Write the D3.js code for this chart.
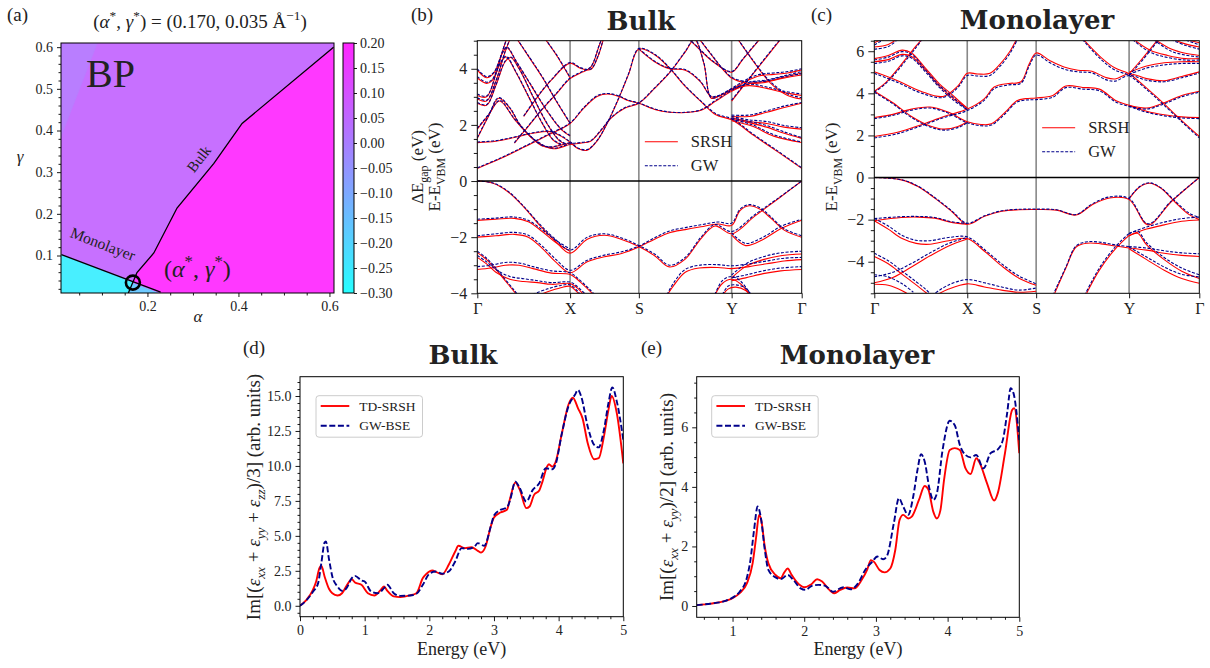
<!DOCTYPE html>
<html>
<head>
<meta charset="utf-8">
<script src="https://cdn.jsdelivr.net/npm/d3@7"></script>
<style>
  body { margin: 0; background: #fff; }
  svg text { font-family: "Liberation Serif", "DejaVu Serif", serif; fill: #222; }
</style>
</head>
<body>
<svg id="fig" width="1210" height="668"></svg>
<script>
// ---------- panel (a): phase map ----------
var bulkLine = [[0.158,0.01],[0.177,0.059],[0.214,0.106],[0.265,0.214],[0.346,0.321],[0.408,0.417],[0.609,0.6]];
var monoLine = [[0.011,0.102],[0.229,0.012]];
var optPoint = [0.168, 0.035];
var regionValues = { upper: 0.06, corner: 0.025, cyan: -0.26, wedge: -0.165, right: 0.2 };
var cbarTicks = [-0.30,-0.25,-0.20,-0.15,-0.10,-0.05,0.00,0.05,0.10,0.15,0.20];

// ---------- panels (b),(c): band structures, points are [k, SRSH, GW] ----------
var kLabels = ["Γ","X","S","Y","Γ"];
var kFrac = [0, 0.286, 0.498, 0.784, 1];

var bulkBands = [
  [[0,0,0],[0.17,-0.08,-0.07],[0.33,-0.38,-0.36],[0.5,-0.92,-0.9],[0.67,-1.57,-1.53],[0.83,-2.1,-2.04],[1,-2.57,-2.46],[1.25,-2.07,-2.0],[1.5,-1.93,-1.88],[1.75,-2.08,-2.03],[2,-2.33,-2.3],[2.17,-2.66,-2.6],[2.33,-3.06,-3.0],[2.5,-2.78,-2.72],[2.67,-2.05,-2.0],[2.82,-1.6,-1.55],[3,-1.88,-1.8],[3.33,-1.25,-1.2],[3.67,-0.62,-0.6],[4,0,0]],
  [[0,-1.4,-1.36],[0.2,-1.36,-1.32],[0.4,-1.33,-1.28],[0.55,-1.45,-1.4],[0.7,-1.8,-1.74],[0.85,-2.2,-2.12],[1,-2.5,-2.42]],
  [[3,-1.92,-1.85],[3.2,-2.3,-2.22],[3.45,-2.08,-2.0],[3.7,-1.7,-1.62],[4,-1.4,-1.36]],
  [[0,-2.0,-1.95],[0.2,-1.95,-1.88],[0.4,-1.9,-1.83],[0.55,-2.0,-1.93],[0.7,-2.4,-2.32],[0.85,-2.9,-2.8],[1,-3.27,-3.18],[1.25,-2.88,-2.82],[1.5,-2.7,-2.64],[1.75,-2.58,-2.52],[2,-2.35,-2.32],[2.17,-2.07,-2.02],[2.33,-1.84,-1.78],[2.5,-1.73,-1.66],[2.67,-1.63,-1.56],[2.85,-1.53,-1.46],[3,-1.58,-1.5],[3.12,-1.05,-1.0],[3.25,-0.88,-0.84],[3.4,-1.0,-0.95],[3.55,-1.3,-1.25],[3.75,-1.75,-1.7],[4,-2.0,-1.95]],
  [[0,-2.55,-2.5],[0.1,-2.8,-2.75],[0.2,-3.15,-3.1],[0.3,-3.55,-3.5],[0.4,-3.95,-3.9],[0.46,-4.2,-4.15]],
  [[0,-3.15,-3.05],[0.15,-3.1,-3.0],[0.3,-3.0,-2.9],[0.45,-3.0,-2.92],[0.6,-3.12,-3.05],[0.8,-3.28,-3.2],[1,-3.33,-3.27],[1.15,-3.6,-3.55],[1.3,-3.95,-3.9],[1.4,-4.2,-4.15]],
  [[0,-2.72,-2.65],[0.1,-2.95,-2.88],[0.2,-3.25,-3.15],[0.35,-3.5,-3.4],[0.5,-3.58,-3.48],[0.65,-3.62,-3.55],[0.8,-3.68,-3.62],[1,-3.65,-3.6],[1.1,-3.8,-3.75],[1.25,-4.2,-4.1]],
  [[0.55,-4.2,-4.1],[0.75,-3.95,-3.85],[0.9,-3.8,-3.72],[1,-3.75,-3.7],[1.1,-3.95,-3.9],[1.2,-4.2,-4.2]],
  [[2.28,-4.2,-4.2],[2.38,-3.7,-3.6],[2.5,-3.25,-3.15],[2.65,-3.1,-3.0],[2.85,-3.08,-2.98],[3,-3.12,-3.02],[3.25,-3.05,-2.95],[3.5,-2.95,-2.85],[3.75,-2.85,-2.75],[4,-2.8,-2.72]],
  [[3,-3.45,-3.35],[3.2,-3.05,-2.95],[3.45,-2.8,-2.7],[3.7,-2.66,-2.56],[4,-2.6,-2.5]],
  [[3,-3.55,-3.45],[3.2,-3.45,-3.35],[3.45,-3.3,-3.2],[3.7,-3.2,-3.1],[4,-3.15,-3.05]],
  [[2.8,-4.2,-4.2],[2.9,-3.65,-3.55],[3,-3.5,-3.4],[3.12,-3.65,-3.55],[3.25,-4.0,-3.95],[3.32,-4.2,-4.2]],
  [[2.88,-4.2,-4.2],[2.96,-3.85,-3.75],[3.06,-3.78,-3.7],[3.2,-3.9,-3.82],[3.3,-4.2,-4.15]],
  [[0,0.45,0.47],[0.25,0.8,0.82],[0.5,1.2,1.22],[0.75,1.62,1.64],[1,2.05,2.07],[1.2,2.6,2.62],[1.4,3.02,3.05],[1.55,3.1,3.12],[1.7,3.02,3.04],[1.85,2.86,2.88],[2,2.77,2.78],[2.17,2.55,2.57],[2.33,2.45,2.46],[2.5,2.44,2.45],[2.67,2.52,2.54],[2.83,2.85,2.88],[3,3.2,3.23],[3.25,3.47,3.52],[3.5,3.55,3.6],[3.75,3.7,3.75],[4,3.85,3.9]],
  [[0,1.37,1.39],[0.2,1.42,1.44],[0.4,1.55,1.57],[0.6,1.7,1.72],[0.78,1.76,1.78],[0.9,1.6,1.62],[1,1.38,1.4],[1.12,1.15,1.17],[1.25,1.1,1.12],[1.4,1.45,1.47],[1.55,2.1,2.12],[1.7,2.9,2.92],[1.85,3.8,3.82],[2,4.7,4.72],[2.17,4.5,4.52],[2.33,4.02,4.04],[2.5,3.37,3.39],[2.67,2.83,2.85],[2.83,2.36,2.4],[3,2.18,2.22],[3.33,1.6,1.63],[3.67,1.02,1.05],[4,0.45,0.47]],
  [[0,1.52,1.55],[0.12,2.3,2.32],[0.23,2.95,2.97],[0.35,2.6,2.62],[0.46,2.0,2.02],[0.64,1.4,1.42],[0.82,1.15,1.17],[1,1.3,1.33],[1.15,1.35,1.37],[1.3,1.42,1.44],[1.45,1.8,1.82],[1.6,2.25,2.27],[1.8,2.6,2.62],[2,2.77,2.79],[2.17,3.3,3.32],[2.33,3.85,3.87],[2.5,4.6,4.62],[2.6,5.05,5.07],[2.7,4.2,4.22],[2.78,2.95,2.97],[2.88,3.05,3.07],[3,3.25,3.28],[3.25,3.4,3.45],[3.5,3.3,3.35],[3.75,3.15,3.2],[4,3.05,3.1]],
  [[0,1.85,1.88],[0.12,2.35,2.37],[0.24,2.85,2.87],[0.4,2.2,2.22],[0.55,1.65,1.67],[0.7,1.25,1.27],[0.8,1.2,1.22],[0.9,1.28,1.3],[1,1.35,1.37]],
  [[0,2.77,2.8],[0.1,2.7,2.72],[0.2,3.4,3.42],[0.3,4.25,4.27],[0.36,4.4,4.42],[0.45,4.0,4.02],[0.6,3.0,3.02],[0.75,2.05,2.07],[0.88,1.45,1.47],[0.96,1.3,1.32]],
  [[0,2.92,2.97],[0.1,2.85,2.88],[0.2,3.55,3.57],[0.3,4.6,4.62],[0.37,5.2,5.2]],
  [[0,3.05,3.1],[0.1,3.0,3.03],[0.2,3.8,3.82],[0.27,4.6,4.62],[0.33,5.2,5.2]],
  [[0,3.67,3.72],[0.1,3.48,3.52],[0.16,3.58,3.62],[0.25,4.2,4.22],[0.31,4.42,4.44],[0.42,3.85,3.87],[0.56,2.95,2.97],[0.7,2.05,2.07],[0.82,1.45,1.47],[0.9,1.3,1.32]],
  [[0,3.96,4.0],[0.1,3.68,3.72],[0.18,3.85,3.88],[0.27,4.55,4.57],[0.32,4.75,4.77],[0.42,4.25,4.27],[0.58,3.4,3.42],[0.75,2.5,2.52],[0.9,1.85,1.87],[1,1.6,1.62]],
  [[0.4,5.2,5.2],[0.55,4.45,4.47],[0.7,3.7,3.72],[0.85,2.85,2.87],[1,2.05,2.07]],
  [[0.7,5.2,5.2],[0.85,4.5,4.52],[1,3.67,3.69]],
  [[0.4,1.35,1.37],[0.55,1.95,1.97],[0.7,2.55,2.57],[0.85,3.1,3.12],[1,3.65,3.67],[1.15,3.85,3.87],[1.3,4.05,4.07],[1.42,4.8,4.82],[1.48,5.2,5.2]],
  [[0.5,2.3,2.32],[0.65,3.0,3.02],[0.8,3.6,3.62],[1,4.2,4.22],[1.15,4.02,4.04],[1.3,3.97,3.99],[1.4,4.4,4.42],[1.5,5.2,5.2]],
  [[2,4.7,4.72],[2.17,4.25,4.27],[2.33,4.0,4.02],[2.5,3.95,3.97],[2.66,3.55,3.57],[2.78,3.0,3.02],[2.86,3.02,3.05],[3,3.27,3.3],[3.2,3.55,3.6],[3.4,3.75,3.8],[3.6,3.8,3.85],[3.8,3.85,3.9],[4,3.96,4.0]],
  [[2.5,5.2,5.2],[2.65,4.7,4.72],[2.8,4.25,4.27],[3,3.88,3.9],[3.15,4.3,4.32],[3.3,4.75,4.77],[3.45,5.2,5.2]],
  [[2.62,5.2,5.2],[2.78,4.5,4.52],[2.9,4.0,4.02],[3,3.67,3.7],[3.2,3.5,3.55],[3.45,3.5,3.55],[3.7,3.65,3.7],[4,3.78,3.82]],
  [[3,2.2,2.25],[3.25,2.08,2.12],[3.5,1.92,1.98],[3.75,1.7,1.75],[4,1.52,1.55]],
  [[3,2.25,2.3],[3.25,2.12,2.18],[3.5,2.05,2.12],[3.75,1.92,1.98],[4,1.85,1.9]],
  [[3,2.3,2.35],[3.25,2.3,2.35],[3.5,2.45,2.5],[3.75,2.62,2.67],[4,2.77,2.8]],
  [[3,2.15,2.2],[3.3,1.95,2.0],[3.6,1.6,1.65],[4,1.37,1.39]],
  [[3.05,5.2,5.2],[3.3,4.3,4.32],[3.55,3.5,3.55],[3.8,3.05,3.1],[4,2.92,2.97]],
  [[3,2.85,2.88],[3.3,3.8,3.82],[3.7,5.05,5.07],[3.75,5.2,5.2]]
];

var monoBands = [
  [[0,0,0],[0.29,-0.11,-0.1],[0.47,-0.43,-0.41],[0.65,-0.98,-0.95],[0.83,-1.6,-1.57],[1,-2.22,-2.17],[1.25,-1.84,-1.82],[1.5,-1.6,-1.58],[1.75,-1.53,-1.51],[2,-1.52,-1.5],[2.22,-1.55,-1.53],[2.43,-1.78,-1.76],[2.6,-1.3,-1.26],[2.79,-0.97,-0.92],[3,-1.05,-1.0],[3.27,-2.25,-2.2],[3.6,-1.15,-1.12],[4,0,0]],
  [[3,-1.02,-0.98],[3.15,-0.45,-0.43],[3.29,-0.27,-0.25],[3.45,-0.5,-0.48],[3.65,-1.15,-1.1],[3.85,-1.75,-1.68],[4,-2.0,-1.9]],
  [[0,-2.05,-1.95],[0.29,-1.9,-1.86],[0.47,-1.88,-1.85],[0.65,-1.93,-1.9],[0.83,-2.13,-2.1],[1,-2.22,-2.18]],
  [[0,-2.05,-1.95],[0.15,-2.45,-2.3],[0.3,-2.9,-2.75],[0.45,-3.13,-2.98],[0.6,-3.17,-3.0],[0.8,-3.0,-2.85],[1,-2.9,-2.82],[1.25,-3.5,-3.42],[1.5,-4.2,-4.1],[1.75,-4.78,-4.68],[2,-5.12,-5.05]],
  [[0,-5.0,-4.72],[0.2,-4.75,-4.5],[0.4,-4.25,-4.08],[0.6,-3.72,-3.58],[0.8,-3.25,-3.13],[1,-2.92,-2.85]],
  [[0,-3.75,-3.6],[0.15,-4.1,-3.95],[0.3,-4.6,-4.45],[0.45,-5.1,-4.95],[0.55,-5.45,-5.3],[0.62,-5.7,-5.6]],
  [[0,-5.07,-4.62],[0.15,-5.12,-4.72],[0.3,-5.38,-5.05],[0.42,-5.7,-5.45]],
  [[0.62,-5.7,-5.6],[0.8,-5.3,-5.1],[1,-5.05,-4.85],[1.25,-5.2,-5.0],[1.5,-5.35,-5.2],[1.75,-5.45,-5.35],[2,-5.4,-5.25]],
  [[2.18,-5.7,-5.6],[2.32,-4.3,-4.25],[2.43,-3.3,-3.25],[2.55,-3.12,-3.05],[2.7,-3.15,-3.08],[2.85,-3.25,-3.2],[3,-3.35,-3.28]],
  [[2.52,-5.7,-5.6],[2.68,-4.4,-4.3],[2.85,-3.4,-3.3],[3,-2.75,-2.65]],
  [[3,-2.75,-2.65],[3.25,-2.45,-2.35],[3.5,-2.25,-2.12],[3.75,-2.08,-1.95],[4,-2.02,-1.88]],
  [[3,-3.35,-3.28],[3.25,-3.45,-3.35],[3.5,-3.6,-3.48],[3.75,-3.7,-3.58],[4,-3.75,-3.62]],
  [[3,-3.38,-3.3],[3.25,-3.9,-3.78],[3.5,-4.4,-4.25],[3.75,-4.8,-4.6],[4,-5.02,-4.72]],
  [[3,-2.78,-2.68],[3.12,-2.65,-2.55],[3.25,-3.2,-3.1],[3.5,-3.9,-3.8],[3.75,-4.45,-4.3],[4,-4.8,-4.62]],
  [[0,1.95,1.88],[0.25,2.15,2.08],[0.5,2.5,2.45],[0.75,2.9,2.85],[1,3.25,3.18],[1.25,3.75,3.68],[1.39,4.3,4.22],[1.6,4.47,4.4],[1.78,4.55,4.48],[1.9,5.4,5.3],[2,5.92,5.82],[2.15,5.55,5.45],[2.3,5.25,5.15],[2.45,5.1,5.02],[2.6,5.05,4.97],[2.75,4.75,4.65],[2.85,4.68,4.58],[3,4.93,4.85],[3.25,4.7,4.62],[3.5,4.6,4.55],[3.75,4.8,4.74],[4,5.02,4.96]],
  [[0,2.85,2.8],[0.2,3.0,2.95],[0.4,3.25,3.2],[0.6,3.35,3.3],[0.8,3.1,3.05],[1,2.65,2.6],[1.2,2.52,2.46],[1.35,2.55,2.49],[1.55,3.1,3.03],[1.72,3.65,3.58],[1.85,3.75,3.68],[2,3.78,3.7],[2.18,3.9,3.82],[2.32,4.35,4.27],[2.5,4.28,4.2],[2.68,4.2,4.12],[2.86,3.65,3.58],[3,3.43,3.38],[3.25,3.15,3.1],[3.5,2.98,2.93],[3.75,2.88,2.83],[4,2.85,2.8]],
  [[0,4.1,4.05],[0.2,3.55,3.5],[0.4,2.9,2.85],[0.6,2.45,2.4],[0.75,2.3,2.25],[0.9,2.42,2.37],[1,2.65,2.6]],
  [[3,3.43,3.38],[3.25,3.3,3.25],[3.5,3.55,3.5],[3.75,3.9,3.84],[4,4.1,4.05]],
  [[0,5.02,4.95],[0.25,4.6,4.52],[0.5,4.1,4.02],[0.74,3.85,3.8],[0.9,4.35,4.28],[1,4.95,4.85],[1.15,4.92,4.82],[1.33,4.95,4.85],[1.48,5.4,5.3],[1.62,6.0,5.9],[1.72,6.6,6.5]],
  [[0,5.5,5.42],[0.15,5.6,5.52],[0.3,5.85,5.78],[0.4,5.75,5.68],[0.55,5.1,5.02],[0.7,4.35,4.28],[0.85,3.75,3.68],[1,3.3,3.22]],
  [[0,5.65,5.58],[0.15,5.8,5.72],[0.3,6.05,5.98],[0.4,5.92,5.85],[0.55,5.2,5.12],[0.7,4.45,4.38],[0.82,4.0,3.92],[0.92,3.6,3.52],[1,3.3,3.22]],
  [[0,6.2,6.1],[0.15,6.32,6.22],[0.25,6.6,6.55]],
  [[0,6.4,6.3],[0.1,6.6,6.55]],
  [[0,4.1,4.05],[0.12,4.5,4.45],[0.25,5.15,5.08],[0.35,5.7,5.62],[0.45,6.25,6.18],[0.52,6.6,6.6]],
  [[3,4.93,4.85],[3.15,5.5,5.42],[3.3,6.1,6.02],[3.42,6.6,6.55]],
  [[2.5,6.6,6.55],[2.7,5.7,5.6],[2.85,5.2,5.1],[3,4.93,4.85],[3.25,4.25,4.18],[3.5,3.5,3.43],[3.75,2.7,2.65],[4,1.95,1.88]],
  [[3.05,6.6,6.55],[3.3,6.05,5.95],[3.55,5.8,5.7],[3.8,5.65,5.58],[4,5.65,5.58]],
  [[3.35,6.6,6.55],[3.6,6.1,6.0],[3.8,5.9,5.82],[4,5.8,5.72]],
  [[3,5.0,4.9],[3.25,5.3,5.2],[3.5,5.45,5.35],[3.75,5.5,5.42],[4,5.5,5.42]],
  [[3.6,6.6,6.55],[3.8,6.35,6.28],[4,6.2,6.1]],
  [[3.75,6.6,6.6],[4,6.4,6.3]]
];

// ---------- panels (d),(e): absorption spectra, [energy eV, Im eps] ----------
var bulkSrsh = [[0,0],[0.1,0.43],[0.2,1.14],[0.25,1.74],[0.3,2.7],[0.33,2.86],[0.38,2.1],[0.45,1.2],[0.5,0.9],[0.58,0.74],[0.65,0.9],[0.72,1.43],[0.8,1.9],[0.85,1.67],[0.95,1.5],[1.05,0.9],[1.15,0.74],[1.25,1.14],[1.3,1.38],[1.35,1.07],[1.45,0.67],[1.55,0.62],[1.7,0.74],[1.8,0.9],[1.9,1.98],[1.95,2.26],[2.05,2.52],[2.1,2.43],[2.2,2.26],[2.3,2.93],[2.4,3.88],[2.45,4.29],[2.55,4.12],[2.65,4.19],[2.75,3.93],[2.8,3.81],[2.87,4.24],[2.95,5.67],[3.0,6.31],[3.1,6.67],[3.2,6.86],[3.25,7.69],[3.33,8.81],[3.4,8.29],[3.5,6.98],[3.55,7.1],[3.62,7.93],[3.7,8.24],[3.75,8.88],[3.82,9.95],[3.85,10.12],[3.9,9.95],[3.95,10.24],[4.05,12.33],[4.15,14.36],[4.22,14.88],[4.3,14.12],[4.37,13.4],[4.45,11.62],[4.55,10.48],[4.62,10.55],[4.7,12.1],[4.77,14.0],[4.82,15.0],[4.9,13.76],[5.0,10.19]];
var bulkGw = [[0,0],[0.1,0.4],[0.2,1.0],[0.28,1.62],[0.33,3.05],[0.38,4.52],[0.4,4.6],[0.45,3.29],[0.5,2.1],[0.58,1.38],[0.65,1.07],[0.72,1.26],[0.8,1.98],[0.85,2.14],[0.95,1.81],[1.0,1.74],[1.1,1.02],[1.2,0.9],[1.3,1.26],[1.35,1.5],[1.45,0.9],[1.55,0.71],[1.7,0.74],[1.8,0.86],[1.9,1.5],[2.0,2.29],[2.1,2.45],[2.2,2.29],[2.3,2.45],[2.4,3.17],[2.5,4.12],[2.6,4.07],[2.7,4.24],[2.75,4.48],[2.85,4.29],[2.95,5.67],[3.0,6.45],[3.1,6.86],[3.2,7.02],[3.25,7.57],[3.33,8.88],[3.4,8.4],[3.5,7.45],[3.6,8.29],[3.7,8.76],[3.8,9.83],[3.9,9.76],[3.95,10.07],[4.05,12.33],[4.15,14.24],[4.25,15.07],[4.3,15.43],[4.35,14.95],[4.45,12.81],[4.55,11.5],[4.62,11.33],[4.7,12.57],[4.77,14.48],[4.83,15.62],[4.9,14.6],[5.0,11.86]];
var monoSrsh = [[0.5,0.03],[0.7,0.08],[0.9,0.17],[1.0,0.26],[1.1,0.43],[1.2,0.76],[1.28,1.43],[1.33,2.33],[1.37,3.06],[1.4,2.89],[1.45,1.99],[1.5,1.43],[1.6,1.04],[1.67,0.93],[1.72,1.12],[1.77,1.26],[1.82,1.06],[1.9,0.79],[2.0,0.63],[2.1,0.73],[2.18,0.9],[2.25,0.82],[2.35,0.54],[2.42,0.43],[2.5,0.54],[2.6,0.62],[2.7,0.59],[2.8,0.87],[2.88,1.23],[2.93,1.54],[2.97,1.49],[3.05,1.21],[3.12,1.13],[3.2,1.26],[3.27,1.88],[3.33,2.89],[3.38,3.06],[3.45,2.94],[3.5,3.0],[3.6,3.56],[3.68,4.03],[3.73,3.92],[3.8,3.17],[3.85,2.94],[3.9,3.22],[3.95,4.23],[4.03,5.24],[4.1,5.3],[4.17,5.24],[4.25,4.62],[4.32,4.43],[4.4,4.96],[4.45,4.79],[4.55,4.12],[4.65,3.54],[4.7,3.79],[4.8,5.13],[4.9,6.58],[4.93,6.64],[5.0,5.13]];
var monoGw = [[0.5,0.03],[0.7,0.08],[0.9,0.17],[1.0,0.28],[1.1,0.48],[1.2,0.95],[1.25,1.55],[1.3,2.55],[1.35,3.34],[1.4,2.89],[1.45,1.88],[1.5,1.21],[1.6,0.96],[1.67,0.9],[1.77,1.04],[1.85,0.87],[1.95,0.59],[2.02,0.54],[2.1,0.67],[2.2,0.71],[2.3,0.67],[2.4,0.48],[2.5,0.59],[2.55,0.63],[2.65,0.56],[2.75,0.76],[2.85,1.21],[2.95,1.49],[3.02,1.66],[3.1,1.57],[3.15,1.66],[3.25,2.78],[3.32,3.62],[3.38,3.34],[3.45,3.06],[3.52,3.67],[3.58,4.57],[3.63,5.1],[3.68,4.85],[3.75,3.9],[3.8,3.56],[3.85,3.78],[3.93,5.24],[4.03,6.22],[4.1,6.07],[4.17,5.41],[4.25,5.07],[4.32,4.99],[4.4,5.07],[4.5,4.62],[4.6,5.13],[4.7,5.26],[4.77,5.57],[4.83,6.47],[4.88,7.31],[4.92,7.14],[5.0,5.57]];

var RED = "#ff0000", NAVY = "#00008b";
var SERIF = '"Liberation Serif", "DejaVu Serif", serif';
var svg = d3.select("#fig");

// text with sub/superscripts
function rich(sel, parts, size) {
  var off = 0;
  parts.forEach(function(p) {
    if (typeof p === "string") p = { t: p };
    var target = p.sub ? size * 0.28 : (p.sup ? -size * 0.4 : 0);
    var ts = sel.append("tspan").text(p.t).attr("dy", target - off);
    if (p.sub || p.sup) ts.attr("font-size", size * 0.7);
    if (p.i) ts.attr("font-style", "italic");
    off = target;
  });
  return sel;
}

function styleAxis(g, fs) {
  g.attr("font-family", SERIF).attr("font-size", fs);
  g.select(".domain").remove();
  g.selectAll("line").attr("stroke", "#000").attr("stroke-width", 0.9);
  g.selectAll("text").attr("fill", "#333").style("font-family", SERIF);
}

function frame(g, x0, y0, x1, y1) {
  g.append("rect").attr("x", x0).attr("y", y0).attr("width", x1 - x0).attr("height", y1 - y0)
    .attr("fill", "none").attr("stroke", "#000").attr("stroke-width", 1);
}

function panelLabel(txt, x, y) {
  svg.append("text").attr("x", x).attr("y", y).attr("font-size", 19).text(txt);
}

function title(txt, x, y) {
  svg.append("text").attr("x", x).attr("y", y).attr("text-anchor", "middle")
    .attr("font-size", 26).attr("font-weight", "bold")
    .style("font-family", '"DejaVu Serif", serif').text(txt);
}

function vlabel(x, y, parts, fs) {
  var t = svg.append("text").attr("transform", "translate(" + x + "," + y + ") rotate(-90)")
    .attr("text-anchor", "middle").attr("font-size", fs);
  rich(t, parts, fs);
}

var defs = svg.append("defs");
function clip(id, x0, y0, x1, y1) {
  defs.append("clipPath").attr("id", id).append("rect")
    .attr("x", x0).attr("y", y0).attr("width", x1 - x0).attr("height", y1 - y0);
}

// ================= (a) =================
(function() {
  var x = d3.scaleLinear([0.01, 0.61], [61, 334]);
  var y = d3.scaleLinear([0.01, 0.61], [293, 43]);
  var cb = d3.scaleLinear([-0.3, 0.2], [293, 43]);
  var cool = function(v, a) {
    var t = (v + 0.3) / 0.5;
    return d3.interpolateRgb("#ffffff", d3.rgb(255 * t, 255 * (1 - t), 255))(a);
  };
  var g = svg.append("g");
  clip("clipA", 61, 43, 334, 293);
  var pg = g.append("g").attr("clip-path", "url(#clipA)");
  var poly = d3.line().x(function(d) { return x(d[0]); }).y(function(d) { return y(d[1]); });
  var regions = [
    { v: regionValues.upper, p: [[0.01,0.01],[0.01,0.61],[0.61,0.61],[0.61,0.01]] },
    { v: regionValues.corner, p: [[0.01,0.61],[0.09,0.61],[0.01,0.385]] },
    { v: regionValues.cyan, p: [[0.01,0.01],[0.01,0.102],optPoint,[0.158,0.01]] },
    { v: regionValues.wedge, p: [[0.158,0.01],optPoint,[0.229,0.01]] },
    { v: regionValues.right, p: [optPoint].concat(bulkLine.slice(1), [[0.61,0.6],[0.61,0.01],[0.229,0.01]]) }
  ];
  pg.selectAll("path.reg").data(regions).join("path").attr("class", "reg")
    .attr("d", function(d) { return poly(d.p) + "Z"; })
    .attr("fill", function(d) { return cool(d.v, 0.78); })
    .attr("stroke", function(d) { return cool(d.v, 0.78); }).attr("stroke-width", 0.5);
  pg.append("path").attr("d", poly(bulkLine)).attr("fill", "none").attr("stroke", "#000").attr("stroke-width", 1.3);
  pg.append("path").attr("d", poly(monoLine)).attr("fill", "none").attr("stroke", "#000").attr("stroke-width", 1.3);
  g.append("circle").attr("cx", x(optPoint[0])).attr("cy", y(optPoint[1])).attr("r", 7)
    .attr("fill", "none").attr("stroke", "#000").attr("stroke-width", 2.6);
  frame(g, 61, 43, 334, 293);

  var ax = g.append("g").attr("transform", "translate(0,293)")
    .call(d3.axisBottom(x).tickValues([0.2, 0.4, 0.6]).tickFormat(d3.format(".1f")).tickSize(4).tickPadding(4));
  styleAxis(ax, 14);
  var axm = g.append("g").attr("transform", "translate(0,293)")
    .call(d3.axisBottom(x).tickValues([0.05,0.1,0.15,0.25,0.3,0.35,0.45,0.5,0.55]).tickFormat("").tickSize(2.5));
  styleAxis(axm, 14);
  var ay = g.append("g").attr("transform", "translate(61,0)")
    .call(d3.axisLeft(y).tickValues([0.1,0.2,0.3,0.4,0.5,0.6]).tickFormat(d3.format(".1f")).tickSize(4).tickPadding(4));
  styleAxis(ay, 14);
  var minY = d3.range(1, 31).map(function(i) { return i * 0.02; }).filter(function(v) { return Math.abs(v * 10 - Math.round(v * 10)) > 1e-6; });
  var aym = g.append("g").attr("transform", "translate(61,0)")
    .call(d3.axisLeft(y).tickValues(minY).tickFormat("").tickSize(2.5));
  styleAxis(aym, 14);

  // colorbar
  var grad = defs.append("linearGradient").attr("id", "cbGrad").attr("x1", 0).attr("y1", 1).attr("x2", 0).attr("y2", 0);
  d3.range(0, 11).forEach(function(i) {
    var v = -0.3 + i * 0.05;
    grad.append("stop").attr("offset", i / 10).attr("stop-color", cool(v, 0.85));
  });
  g.append("rect").attr("x", 343).attr("y", 43).attr("width", 11).attr("height", 250).attr("fill", "url(#cbGrad)");
  frame(g, 343, 43, 354, 293);
  var ac = g.append("g").attr("transform", "translate(354,0)")
    .call(d3.axisRight(cb).tickValues(cbarTicks).tickFormat(d3.format(".2f")).tickSize(3).tickPadding(3));
  styleAxis(ac, 14);

  g.append("text").attr("x", 86).attr("y", 87).attr("font-size", 40).text("BP");
  g.append("text").attr("transform", "translate(203,162) rotate(-52)").attr("text-anchor", "middle").attr("font-size", 15).text("Bulk");
  g.append("text").attr("transform", "translate(101,249) rotate(21)").attr("text-anchor", "middle").attr("font-size", 15.5).text("Monolayer");
  var lab = g.append("text").attr("x", 164).attr("y", 277).attr("font-size", 24);
  rich(lab, ["(", { t: "α", i: 1 }, { t: "*", sup: 1 }, ", ", { t: "γ", i: 1 }, { t: "*", sup: 1 }, ")"], 24);
  var tt = g.append("text").attr("x", 200).attr("y", 28).attr("text-anchor", "middle").attr("font-size", 19);
  rich(tt, ["(", { t: "α", i: 1 }, { t: "*", sup: 1 }, ", ", { t: "γ", i: 1 }, { t: "*", sup: 1 }, ") = (0.170, 0.035 Å", { t: "−1", sup: 1 }, ")"], 19);
  g.append("text").attr("x", 198).attr("y", 322).attr("text-anchor", "middle").attr("font-size", 17).attr("font-style", "italic").text("α");
  g.append("text").attr("x", 20).attr("y", 162).attr("text-anchor", "middle").attr("font-size", 17).attr("font-style", "italic").text("γ");
  panelLabel("(a)", 7, 21);
})();

// ================= (b),(c) band structures =================
function bandPanel(id, x0, x1, y0, y1, yDom, yMajor, bands, legY) {
  var x = d3.scaleLinear([0, 1, 2, 3, 4], kFrac.map(function(f) { return x0 + f * (x1 - x0); }));
  var y = d3.scaleLinear(yDom, [y1, y0]);
  var g = svg.append("g");
  clip(id, x0, y0, x1, y1);
  var pg = g.append("g").attr("clip-path", "url(#" + id + ")");
  pg.selectAll("line.hs").data([1, 2, 3]).join("line").attr("class", "hs")
    .attr("x1", function(d) { return x(d); }).attr("x2", function(d) { return x(d); })
    .attr("y1", y0).attr("y2", y1).attr("stroke", "#888").attr("stroke-width", 1.6);
  var ls = d3.line().x(function(d) { return x(d[0]); }).y(function(d) { return y(d[1]); }).curve(d3.curveCatmullRom.alpha(0.5));
  var lg = d3.line().x(function(d) { return x(d[0]); }).y(function(d) { return y(d[2]); }).curve(d3.curveCatmullRom.alpha(0.5));
  pg.selectAll("path.srsh").data(bands).join("path").attr("class", "srsh").attr("d", ls)
    .attr("fill", "none").attr("stroke", RED).attr("stroke-width", 1.1);
  pg.selectAll("path.gw").data(bands).join("path").attr("class", "gw").attr("d", lg)
    .attr("fill", "none").attr("stroke", NAVY).attr("stroke-width", 1.1).attr("stroke-dasharray", "3,1.6");
  pg.append("line").attr("x1", x0).attr("x2", x1).attr("y1", y(0)).attr("y2", y(0)).attr("stroke", "#000").attr("stroke-width", 1.4);
  frame(g, x0, y0, x1, y1);

  var ay = g.append("g").attr("transform", "translate(" + x0 + ",0)")
    .call(d3.axisLeft(y).tickValues(yMajor).tickFormat(d3.format("d")).tickSize(6).tickPadding(4));
  styleAxis(ay, 16);
  var minor = d3.range(Math.ceil(yDom[0] * 2), Math.floor(yDom[1] * 2) + 1).map(function(i) { return i / 2; })
    .filter(function(v) { return yMajor.indexOf(v) < 0; });
  var aym = g.append("g").attr("transform", "translate(" + x0 + ",0)")
    .call(d3.axisLeft(y).tickValues(minor).tickFormat("").tickSize(3.5));
  styleAxis(aym, 16);
  var axb = g.append("g").attr("transform", "translate(0," + y1 + ")")
    .call(d3.axisBottom(x).tickValues([0, 1, 2, 3, 4]).tickFormat(function(d, i) { return kLabels[i]; }).tickSize(5).tickPadding(4));
  styleAxis(axb, 16);
  axb.selectAll("text").attr("dy", "0.75em");

  // legend (no frame)
  var lx = x(2) + 6;
  var leg = [{ n: "SRSH", c: RED, d: null }, { n: "GW", c: NAVY, d: "3,1.6" }];
  leg.forEach(function(e, i) {
    var yy = legY + i * 24;
    g.append("line").attr("x1", lx).attr("x2", lx + 33).attr("y1", yy).attr("y2", yy)
      .attr("stroke", e.c).attr("stroke-width", 1.1).attr("stroke-dasharray", e.d);
    g.append("text").attr("x", lx + 46).attr("y", yy + 5.5).attr("font-size", 16.5).text(e.n);
  });
  return { x: x, y: y };
}

bandPanel("clipB", 477.3, 801.7, 40.7, 293.3, [-4, 5], [-4, -2, 0, 2, 4], bulkBands, 141.7);
bandPanel("clipC", 874.3, 1199.3, 40.7, 293.3, [-5.5, 6.5], [-4, -2, 0, 2, 4, 6], monoBands, 127.7);

vlabel(423, 167, ["ΔE", { t: "gap", sub: 1 }, " (eV)"], 17);
vlabel(440, 167, ["E-E", { t: "VBM", sub: 1 }, " (eV)"], 17);
vlabel(837, 167, ["E-E", { t: "VBM", sub: 1 }, " (eV)"], 17);
title("Bulk", 641, 30);
title("Monolayer", 1037, 29);
panelLabel("(b)", 411, 21);
panelLabel("(c)", 811, 21);

// ================= (d),(e) spectra =================
function specPanel(id, x0, x1, y0, y1, xDom, yDom, xMajor, yMajor, yFmt, srsh, gw, legX) {
  var x = d3.scaleLinear(xDom, [x0, x1]);
  var y = d3.scaleLinear(yDom, [y1, y0]);
  var g = svg.append("g");
  clip(id, x0, y0, x1, y1);
  var pg = g.append("g").attr("clip-path", "url(#" + id + ")");
  var line = d3.line().x(function(d) { return x(d[0]); }).y(function(d) { return y(d[1]); }).curve(d3.curveMonotoneX);
  pg.append("path").attr("d", line(srsh)).attr("fill", "none").attr("stroke", RED).attr("stroke-width", 1.9);
  pg.append("path").attr("d", line(gw)).attr("fill", "none").attr("stroke", NAVY).attr("stroke-width", 1.9).attr("stroke-dasharray", "6,2.6");
  frame(g, x0, y0, x1, y1);

  var ax = g.append("g").attr("transform", "translate(0," + y1 + ")")
    .call(d3.axisBottom(x).tickValues(xMajor).tickFormat(d3.format("d")).tickSize(4.5).tickPadding(4));
  styleAxis(ax, 14);
  var xm = d3.range(Math.ceil(xDom[0] * 5), Math.floor(xDom[1] * 5) + 1).map(function(i) { return i / 5; })
    .filter(function(v) { return Math.abs(v - Math.round(v)) > 1e-6; });
  var axm = g.append("g").attr("transform", "translate(0," + y1 + ")")
    .call(d3.axisBottom(x).tickValues(xm).tickFormat("").tickSize(2.5));
  styleAxis(axm, 14);
  var ay = g.append("g").attr("transform", "translate(" + x0 + ",0)")
    .call(d3.axisLeft(y).tickValues(yMajor).tickFormat(d3.format(yFmt)).tickSize(4.5).tickPadding(4));
  styleAxis(ay, 14);
  var ym = d3.range(Math.ceil(yDom[0] * 2), Math.floor(yDom[1] * 2) + 1).map(function(i) { return i / 2; })
    .filter(function(v) { return yMajor.indexOf(v) < 0; });
  var aym = g.append("g").attr("transform", "translate(" + x0 + ",0)")
    .call(d3.axisLeft(y).tickValues(ym).tickFormat("").tickSize(2.5));
  styleAxis(aym, 14);

  g.append("rect").attr("x", legX).attr("y", 395.7).attr("width", 106.5).attr("height", 41.5)
    .attr("rx", 3).attr("fill", "#fff").attr("fill-opacity", 0.8).attr("stroke", "#ccc").attr("stroke-width", 1);
  var leg = [{ n: "TD-SRSH", c: RED, d: null }, { n: "GW-BSE", c: NAVY, d: "6,2.6" }];
  leg.forEach(function(e, i) {
    var yy = 406 + i * 19.7;
    g.append("line").attr("x1", legX + 4.7).attr("x2", legX + 33.3).attr("y1", yy).attr("y2", yy)
      .attr("stroke", e.c).attr("stroke-width", 1.9).attr("stroke-dasharray", e.d);
    g.append("text").attr("x", legX + 43.3).attr("y", yy + 4.5).attr("font-size", 13.5).text(e.n);
  });
  svg.append("text").attr("x", (x0 + x1) / 2).attr("y", 655).attr("text-anchor", "middle").attr("font-size", 18).text("Energy (eV)");
}

specPanel("clipD", 300, 623.3, 376.7, 616.7, [0, 5], [-0.78, 16.38], [0, 1, 2, 3, 4, 5], [0, 2.5, 5, 7.5, 10, 12.5, 15], ".1f", bulkSrsh, bulkGw, 316);
specPanel("clipE", 696.7, 1019.3, 376.7, 617.3, [0.5, 5], [-0.38, 7.7], [1, 2, 3, 4, 5], [0, 2, 4, 6], "d", monoSrsh, monoGw, 711.7);

vlabel(260, 497, ["Im[(", { t: "ε", i: 1 }, { t: "xx", sub: 1, i: 1 }, " + ", { t: "ε", i: 1 }, { t: "yy", sub: 1, i: 1 }, " + ", { t: "ε", i: 1 }, { t: "zz", sub: 1, i: 1 }, ")/3] (arb. units)"], 19);
vlabel(673, 497, ["Im[(", { t: "ε", i: 1 }, { t: "xx", sub: 1, i: 1 }, " + ", { t: "ε", i: 1 }, { t: "yy", sub: 1, i: 1 }, ")/2] (arb. units)"], 19);
title("Bulk", 463, 364);
title("Monolayer", 857, 364);
panelLabel("(d)", 243, 354);
panelLabel("(e)", 641, 354);
</script>
</body>
</html>
